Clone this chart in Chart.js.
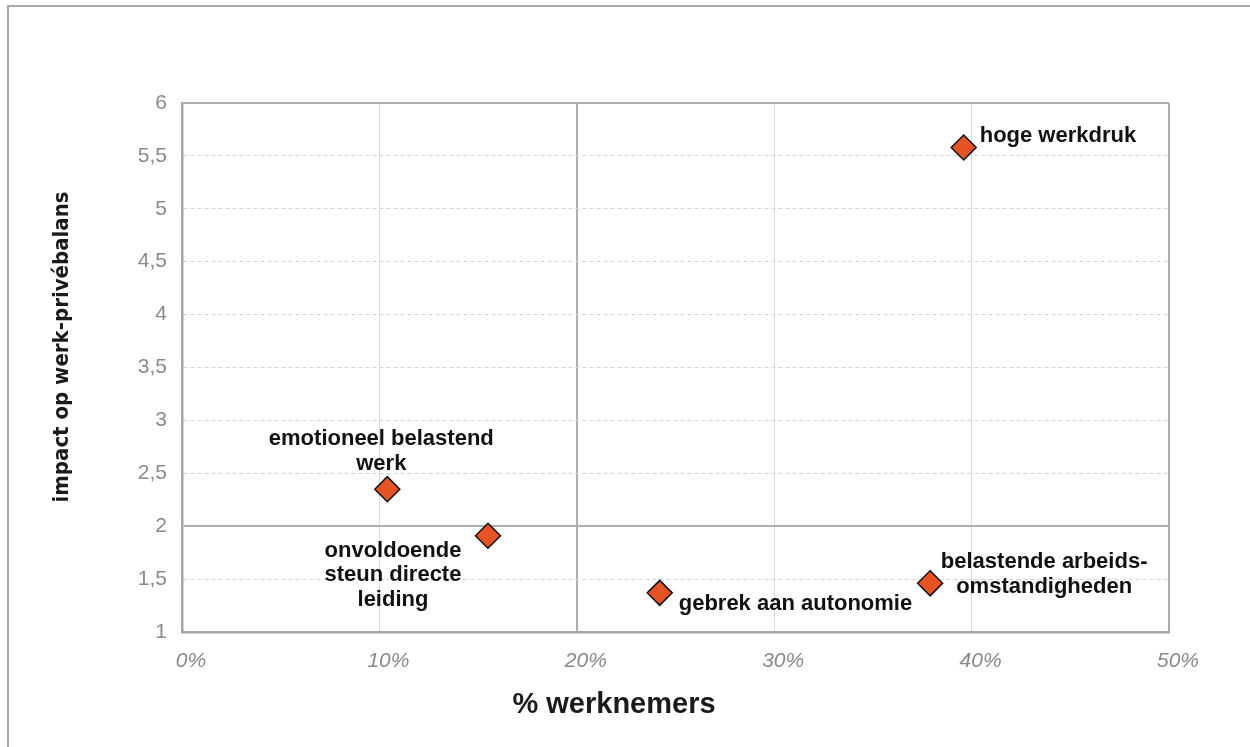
<!DOCTYPE html>
<html lang="nl">
<head>
<meta charset="utf-8">
<title>Impact op werk-privébalans</title>
<script src="https://cdn.jsdelivr.net/npm/chart.js@4.4.1/dist/chart.umd.min.js"></script>
<style>
  html, body { margin: 0; padding: 0; background: #fff; }
  #wrap { position: relative; width: 1250px; height: 747px; overflow: hidden; }
  #frame { position: absolute; left: 7px; top: 5px; width: 1400px; height: 900px;
           border-top: 2px solid #a9a9a9; border-left: 2px solid #a9a9a9; box-sizing: border-box; }
  canvas { position: absolute; left: 0; top: 0; }
</style>
</head>
<body>
<div id="wrap">
  <div id="frame"></div>
  <canvas id="c" width="1250" height="747"></canvas>
</div>
<script>
// Werkfactoren: aandeel werknemers (%) en impact op de werk-privébalans
const factoren = [
  ['hoge werkdruk'],
  ['emotioneel belastend', 'werk'],
  ['onvoldoende', 'steun directe', 'leiding'],
  ['gebrek aan autonomie'],
  ['belastende arbeids-', 'omstandigheden']
];
const werknemersPct = [39.6, 10.4, 15.5, 24.2, 37.9];
const impact = [5.58, 2.35, 1.91, 1.37, 1.46];

const xTicks = [0, 10, 20, 30, 40, 50];
const yTicks = [1, 1.5, 2, 2.5, 3, 3.5, 4, 4.5, 5, 5.5, 6];

const xTitel = '% werknemers';
const yTitel = 'impact op werk-privébalans';

// Label placement relative to each marker: [dx, dy of first line centre, text alignment]
const labelPlaatsing = [
  [16, -11, 'left'],
  [-6, -50, 'center'],
  [-95, 15, 'center'],
  [19, 11, 'left'],
  [114, -21, 'center']
];

const punten = werknemersPct.map((x, i) => ({ x: x, y: impact[i] }));

const LABEL_FONT = 'bold 22px "Liberation Sans", Arial, sans-serif';
const LINE_H = 24.5;

const labelPlugin = {
  id: 'puntLabels',
  afterDatasetsDraw(chart) {
    const ctx = chart.ctx;
    const meta = chart.getDatasetMeta(0);
    ctx.save();
    ctx.font = LABEL_FONT;
    ctx.fillStyle = '#111';
    ctx.textBaseline = 'middle';
    meta.data.forEach((el, i) => {
      const [dx, dy, align] = labelPlaatsing[i];
      ctx.textAlign = align;
      factoren[i].forEach((line, j) => {
        ctx.fillText(line, el.x + dx, el.y + dy + j * LINE_H);
      });
    });
    ctx.restore();
  }
};

const titelPlugin = {
  id: 'asTitels',
  afterDraw(chart) {
    const ctx = chart.ctx;
    const a = chart.chartArea;
    ctx.save();
    ctx.fillStyle = '#1a1a1a';
    ctx.textAlign = 'center';
    ctx.textBaseline = 'middle';
    ctx.font = 'bold 29px "Liberation Sans", Arial, sans-serif';
    ctx.fillText(xTitel, a.left + 432, a.bottom + 73);
    ctx.translate(62, a.top + 244);
    ctx.rotate(-Math.PI / 2);
    ctx.font = 'bold 22px "Liberation Sans Narrow", "DejaVu Sans Condensed", sans-serif';
    ctx.fillText(yTitel, 0, 0);
    ctx.restore();
  }
};

const axisGrey = '#a6a6a6';

new Chart(document.getElementById('c'), {
  type: 'scatter',
  data: {
    datasets: [{
      data: punten,
      pointStyle: 'rectRot',
      pointRadius: 12.5,
      pointHoverRadius: 12.5,
      pointBackgroundColor: '#e65325',
      pointBorderColor: '#111',
      pointBorderWidth: 1.5
    }]
  },
  options: {
    responsive: false,
    animation: false,
    events: [],
    layout: { padding: { left: 0, top: 103, right: 81, bottom: 0 } },
    plugins: { legend: { display: false }, tooltip: { enabled: false } },
    scales: {
      x: {
        type: 'linear',
        min: 0, max: 50,
        afterFit(s) { s.height = 115; },
        afterBuildTicks(s) { s.ticks = xTicks.map(v => ({ value: v })); },
        ticks: {
          padding: 17,
          labelOffset: 9,
          color: '#8a8a8a',
          font: { family: '"Liberation Sans", Arial, sans-serif', size: 21, style: 'italic' },
          callback: v => v + '%'
        },
        grid: {
          drawTicks: false,
          color: c => (c.tick && (c.tick.value === 20 || c.tick.value === 50)) ? '#adadad' : '#d9d9d9',
          lineWidth: c => (c.tick && (c.tick.value === 20 || c.tick.value === 50)) ? 2 : 1
        },
        border: { display: true, color: axisGrey, width: 2.5 }
      },
      y: {
        type: 'linear',
        min: 1, max: 6,
        afterFit(s) { s.width = 182; },
        afterBuildTicks(s) { s.ticks = yTicks.map(v => ({ value: v })); },
        ticks: {
          padding: 15,
          color: '#8a8a8a',
          font: { family: '"Liberation Sans", Arial, sans-serif', size: 21 },
          callback: v => String(v).replace('.', ',')
        },
        grid: {
          drawTicks: false,
          color: c => (c.tick && (c.tick.value === 2 || c.tick.value === 6)) ? '#adadad' : '#d4d4d4',
          lineWidth: c => (c.tick && (c.tick.value === 2 || c.tick.value === 6)) ? 2 : 1
        },
        border: {
          display: true, color: axisGrey, width: 2.5,
          dash: c => (c.tick && c.tick.value !== 2 && c.tick.value !== 6 && c.tick.value !== 1) ? [4, 3] : []
        }
      }
    }
  },
  plugins: [labelPlugin, titelPlugin]
});
</script>
</body>
</html>
